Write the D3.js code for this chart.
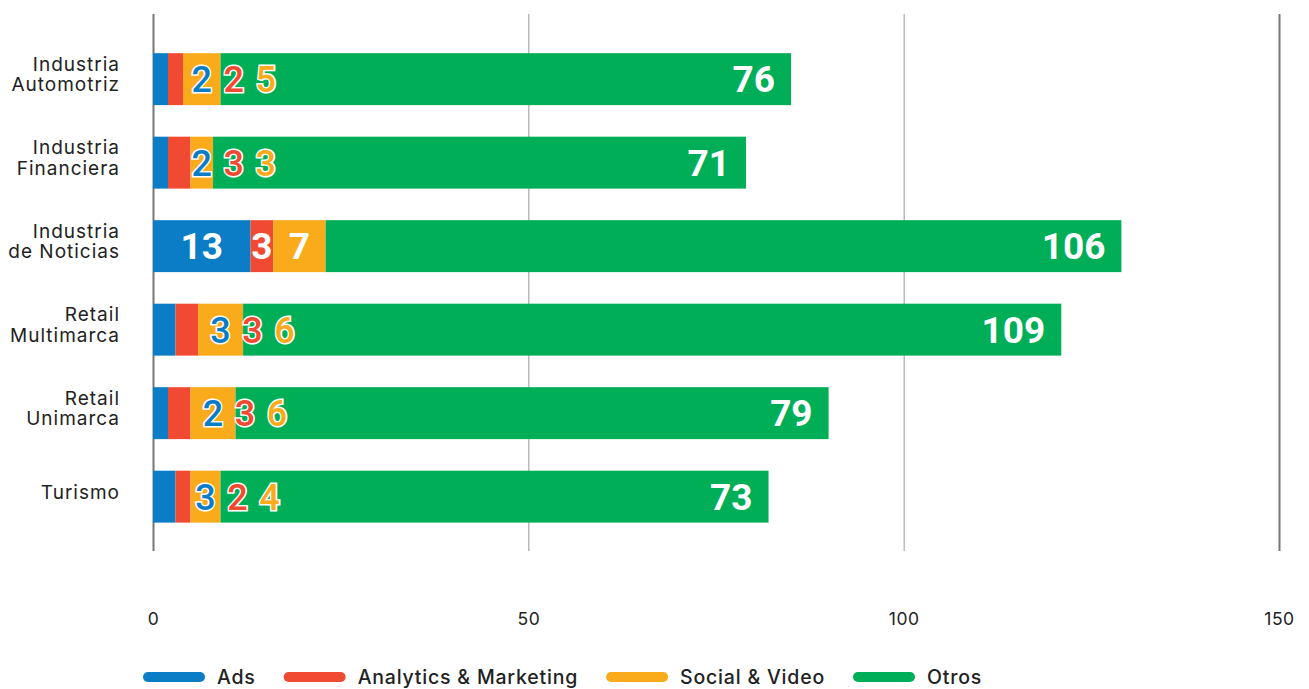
<!DOCTYPE html>
<html>
<head>
<meta charset="utf-8">
<script src="https://cdn.jsdelivr.net/npm/d3@7"></script>
<style>
  html, body { margin: 0; padding: 0; background: #fff; }
  svg { display: block; font-family: Inter, "Open Sans", sans-serif; }
</style>
</head>
<body>
<svg id="chart" width="1309" height="689"></svg>
<script>
// Categories (line breaks with "\n")
const categories = [
  "Industria\nAutomotriz",
  "Industria\nFinanciera",
  "Industria\nde Noticias",
  "Retail\nMultimarca",
  "Retail\nUnimarca",
  "Turismo"
];

// Series values, one per category
const ads       = [2, 2, 13, 3, 2, 3];
const analytics = [2, 3, 3, 3, 3, 2];
const social    = [5, 3, 7, 6, 6, 4];
const otros     = [76, 71, 106, 109, 79, 73];

const seriesNames  = ["Ads", "Analytics & Marketing", "Social & Video", "Otros"];
const seriesColors = ["#0b7dc6", "#f04b32", "#f9ab1c", "#00ae57"];
const tickValues   = [0, 50, 100, 150];

const svg = d3.select("#chart");

const x = d3.scaleLinear().domain([0, 150]).range([153, 1279]);
const y = d3.scaleBand()
  .domain(categories)
  .range([37.4, 538.4])
  .paddingInner(0.378)
  .paddingOuter(0.189);

// Gridlines and tick labels via a bottom axis
const gridTop = 14, gridBottom = 551;
const axis = svg.append("g")
  .attr("transform", `translate(0,${gridBottom})`)
  .call(d3.axisBottom(x).tickValues(tickValues).tickSize(-(gridBottom - gridTop)).tickFormat(d3.format("d")));
axis.select(".domain").remove();
axis.selectAll(".tick line")
  .attr("stroke", d => (d === 0 || d === 150) ? "#777" : "#999")
  .attr("stroke-width", d => (d === 0 || d === 150) ? 2 : 1);
axis.selectAll(".tick text")
  .attr("y", 74)
  .attr("dy", 0)
  .attr("fill", "#222")
  .attr("font-size", 17.5)
  .attr("letter-spacing", 0.5)
  .attr("font-family", "Inter, sans-serif");

// Stack the series
const rows = categories.map((c, i) => ({
  cat: c,
  vals: [ads[i], analytics[i], social[i], otros[i]]
}));

rows.forEach(r => {
  let acc = 0;
  r.segs = r.vals.map((v, k) => {
    const s = { k, v, x0: acc, x1: acc + v };
    acc += v;
    return s;
  });
});

const barsG = svg.append("g");
barsG.selectAll("g.row")
  .data(rows)
  .join("g")
  .attr("class", "row")
  .each(function (r) {
    d3.select(this).selectAll("rect")
      .data(r.segs)
      .join("rect")
      .attr("x", s => x(s.x0))
      .attr("width", s => x(s.x1) - x(s.x0))
      .attr("y", y(r.cat))
      .attr("height", y.bandwidth())
      .attr("fill", s => seriesColors[s.k]);
  });

// Value labels
const labelsG = svg.append("g").attr("font-family", "Roboto, sans-serif");
rows.forEach(r => {
  const cy = y(r.cat) + y.bandwidth() / 2;
  const base = cy + 13;
  const small = r.segs.slice(0, 3);
  const smallWidth = x(small[2].x1) - x(0);

  if (smallWidth >= 120) {
    // Segments are wide enough: white labels centred inside
    small.forEach(s => {
      labelsG.append("text")
        .attr("x", (x(s.x0) + x(s.x1)) / 2)
        .attr("y", base)
        .attr("text-anchor", "middle")
        .attr("fill", "#fff")
        .attr("font-size", 37)
        .attr("font-weight", 700)
        .text(s.v);
    });
  } else {
    // Narrow segments: coloured, outlined labels in a row
    const start = (x(small[2].x0) + x(small[2].x1)) / 2;
    small.forEach((s, j) => {
      labelsG.append("text")
        .attr("x", start + j * 32)
        .attr("y", base)
        .attr("text-anchor", "middle")
        .attr("fill", seriesColors[s.k])
        .attr("stroke", "#fff")
        .attr("stroke-width", 3)
        .attr("paint-order", "stroke")
        .attr("font-size", 36)
        .attr("font-weight", 500)
        .text(s.v);
    });
  }

  const last = r.segs[3];
  labelsG.append("text")
    .attr("x", x(last.x1) - 16)
    .attr("y", base)
    .attr("text-anchor", "end")
    .attr("fill", "#fff")
    .attr("font-size", 37)
    .attr("font-weight", 700)
    .text(last.v);
});

// Category labels
const catG = svg.append("g");
categories.forEach(c => {
  const lines = c.split("\n");
  const cy = y(c) + y.bandwidth() / 2;
  lines.forEach((ln, i) => {
    catG.append("text")
      .attr("text-anchor", "end")
      .attr("fill", "#222")
      .attr("font-size", 19)
      .attr("letter-spacing", 1)
      .attr("x", 120)
      .attr("y", cy + 2 + (i - (lines.length - 1) / 2) * 20.5)
      .text(ln);
  });
});

// Legend
const legend = svg.append("g").attr("transform", "translate(143,677)");
let lx = 0;
seriesNames.forEach((name, i) => {
  legend.append("line")
    .attr("x1", lx + 5).attr("x2", lx + 57)
    .attr("y1", 0).attr("y2", 0)
    .attr("stroke", seriesColors[i])
    .attr("stroke-width", 10)
    .attr("stroke-linecap", "round");
  const t = legend.append("text")
    .attr("x", lx + 74)
    .attr("y", 7)
    .attr("fill", "#222")
    .attr("font-size", 19.5)
    .attr("font-weight", 500)
    .attr("letter-spacing", 0.8)
    .text(name);
  lx += 74 + t.node().getComputedTextLength() + 28;
});
</script>
</body>
</html>
